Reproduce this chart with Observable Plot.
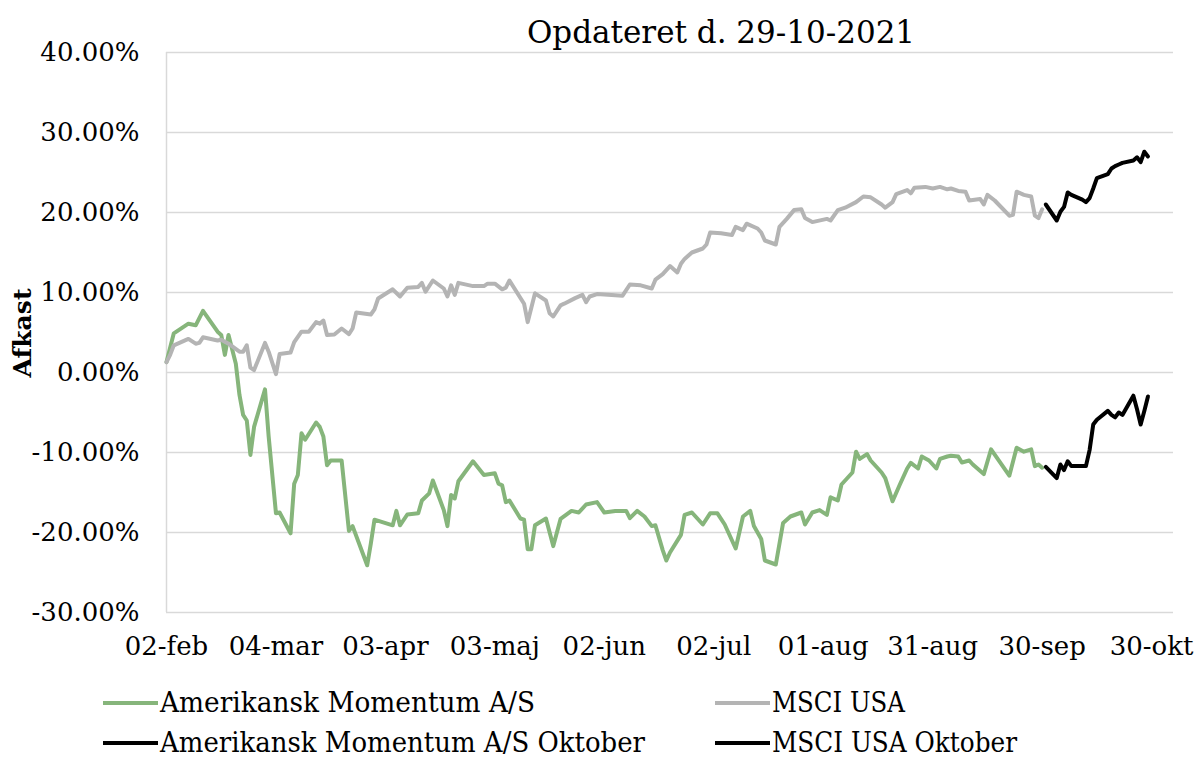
<!DOCTYPE html>
<html><head><meta charset="utf-8">
<script src="https://cdn.jsdelivr.net/npm/d3@7"></script>
<script src="https://cdn.jsdelivr.net/npm/@observablehq/plot@0.6"></script>
<style>
body{margin:0;background:#fff;}
#wrap{position:relative;width:1201px;height:760px;overflow:hidden;font-family:"DejaVu Serif",serif;color:#000;}
#title{position:absolute;top:12px;left:721px;transform:translateX(-50%);font-size:31px;line-height:40px;white-space:nowrap;}
#ytitle{position:absolute;left:22px;top:333px;transform:translate(-50%,-50%) rotate(-90deg);font-size:25px;font-weight:bold;white-space:nowrap;}
#chart svg,#legend svg{display:block;}
</style></head><body>
<div id="wrap"><div id="chart"></div><div id="legend"></div><div id="title">Opdateret d. 29-10-2021</div><div id="ytitle">Afkast</div></div>
<script>
// ---- data (afkast i %) ----
const amDatoer = ["02-02","02-04","02-08","02-10","02-12","02-16","02-17","02-18","02-19","02-21","02-22","02-23","02-24","02-25","02-26","03-01","03-02","03-04","03-05","03-08","03-09","03-10","03-11","03-12","03-15","03-16","03-17","03-18","03-19","03-22","03-24","03-25","03-29","03-30","03-31","04-05","04-06","04-07","04-09","04-12","04-13","04-15","04-16","04-19","04-20","04-21","04-22","04-23","04-27","04-30","05-03","05-04","05-05","05-06","05-07","05-10","05-11","05-12","05-13","05-14","05-17","05-19","05-21","05-24","05-26","05-28","05-31","06-02","06-05","06-08","06-09","06-11","06-13","06-15","06-16","06-18","06-19","06-20","06-23","06-24","06-26","06-29","07-01","07-03","07-05","07-06","07-08","07-10","07-12","07-13","07-15","07-16","07-19","07-21","07-23","07-26","07-27","07-29","07-31","08-02","08-03","08-05","08-06","08-09","08-10","08-11","08-13","08-14","08-17","08-18","08-20","08-22","08-24","08-25","08-27","08-28","08-30","09-01","09-02","09-04","09-05","09-07","09-08","09-10","09-11","09-14","09-16","09-21","09-23","09-25","09-27","09-28","09-29","09-30"];
const amVaerdier = [1.3,4.9,6.1,5.9,7.7,5.1,4.7,2.2,4.7,1.1,-2.8,-5.3,-6.0,-10.3,-6.8,-2.1,-8.0,-17.6,-17.5,-20.1,-13.9,-12.8,-7.6,-8.4,-6.25,-6.8,-8.0,-11.6,-11.0,-11.0,-19.8,-19.2,-24.1,-21.4,-18.4,-19.1,-17.3,-19.1,-17.75,-17.6,-16.0,-15.1,-13.5,-17.2,-19.2,-15.3,-15.75,-13.6,-11.1,-12.8,-12.6,-13.9,-14.1,-16.2,-16.0,-18.25,-18.4,-22.1,-22.1,-19.1,-18.25,-21.7,-18.3,-17.3,-17.5,-16.5,-16.2,-17.5,-17.3,-17.3,-18.2,-17.3,-18.0,-19.2,-19.1,-22.2,-23.5,-22.5,-20.3,-17.8,-17.5,-19.0,-17.6,-17.6,-19.0,-20.0,-22.0,-18.0,-17.3,-19.2,-20.8,-23.5,-24.0,-18.8,-18.0,-17.5,-19.0,-17.5,-17.2,-17.8,-15.6,-16.0,-14.0,-12.5,-9.9,-10.8,-10.2,-11.0,-12.5,-13.2,-16.1,-14.0,-12.0,-11.3,-12.0,-10.5,-11.0,-12.0,-10.8,-10.5,-10.4,-10.5,-11.25,-11.0,-11.5,-12.7,-9.6,-12.9,-9.4,-9.9,-9.6,-11.7,-11.5,-11.9];

const msciDatoer = ["02-02","02-03","02-04","02-08","02-10","02-11","02-12","02-16","02-17","02-19","02-22","02-23","02-24","02-25","02-26","03-01","03-02","03-04","03-05","03-08","03-09","03-11","03-13","03-15","03-16","03-17","03-18","03-20","03-22","03-24","03-25","03-26","03-30","03-31","04-01","04-05","04-07","04-09","04-12","04-13","04-14","04-16","04-19","04-20","04-21","04-22","04-23","04-27","04-30","05-01","05-03","05-05","05-06","05-07","05-11","05-12","05-14","05-17","05-18","05-19","05-21","05-22","05-25","05-27","05-28","05-29","05-31","06-04","06-07","06-09","06-12","06-15","06-16","06-18","06-19","06-20","06-22","06-23","06-24","06-26","06-29","06-30","07-01","07-04","07-07","07-08","07-10","07-11","07-14","07-15","07-16","07-19","07-20","07-22","07-24","07-26","07-27","07-29","08-02","08-03","08-05","08-07","08-10","08-12","08-14","08-17","08-18","08-20","08-21","08-24","08-25","08-26","08-29","08-31","09-02","09-04","09-05","09-07","09-09","09-10","09-13","09-14","09-15","09-17","09-21","09-22","09-23","09-25","09-27","09-28","09-29","09-30"];
const msciVaerdier = [1.3,2.2,3.4,4.2,3.6,3.7,4.4,4.0,4.1,3.6,2.6,2.6,3.4,0.6,0.3,3.7,2.6,-0.2,2.3,2.5,3.8,5.1,5.1,6.3,6.1,6.5,4.7,4.75,5.5,4.8,5.5,7.5,7.25,7.9,9.25,10.4,9.5,10.6,10.7,11.2,10.1,11.5,10.5,9.5,10.9,9.7,11.2,10.8,10.8,11.1,11.1,10.4,10.6,11.5,8.6,6.3,9.9,9.0,7.4,7.0,8.4,8.6,9.3,9.7,8.8,9.5,9.8,9.7,9.6,11.0,10.9,10.5,11.6,12.3,12.8,13.3,12.5,13.6,14.2,15.0,15.5,16.0,17.5,17.4,17.2,18.2,17.8,18.6,18.0,17.5,16.5,16.0,18.2,19.2,20.3,20.4,19.3,18.8,19.2,19.0,20.3,20.6,21.3,22.0,21.9,21.0,20.6,21.3,22.3,22.8,22.4,23.1,23.2,23.0,23.2,22.9,23.0,22.7,22.6,21.5,21.7,21.0,22.2,21.5,19.6,19.7,22.6,22.2,22.0,19.6,19.3,20.4];

const oktDatoer = ["10-01","10-04","10-05","10-06","10-07","10-08","10-11","10-12","10-13","10-14","10-15","10-18","10-19","10-20","10-21","10-22","10-25","10-26","10-27","10-28","10-29"];
const amOktober = [-11.8,-13.2,-11.5,-12.2,-11.1,-11.7,-11.7,-11.7,-9.7,-6.5,-5.9,-4.8,-5.3,-5.6,-5.0,-5.3,-2.9,-4.6,-6.5,-4.8,-3.0];
const msciOktober = [21.0,19.0,20.1,20.7,22.5,22.2,21.6,21.3,21.8,23.0,24.3,24.8,25.5,25.8,26.0,26.2,26.5,26.9,26.3,27.6,27.0];

const xTicks = ["02-02","03-04","04-03","05-03","06-02","07-02","08-01","08-31","09-30","10-30"];
const xTickLabels = ["02-feb","04-mar","03-apr","03-maj","02-jun","02-jul","01-aug","31-aug","30-sep","30-okt"];
const yTicks = [-30,-20,-10,0,10,20,30,40];

const serieNavne = ["Amerikansk Momentum A/S","MSCI USA","Amerikansk Momentum A/S Oktober","MSCI USA Oktober"];
const serieFarver = ["#86b57b","#b4b4b4","#000000","#000000"];

// ---- build ----
const parse = s => new Date("2021-" + s + "T00:00:00Z");
const rows = (datoer, vals) => datoer.map((d, i) => ({date: parse(d), v: vals[i]}));
const am = rows(amDatoer, amVaerdier);
const msci = rows(msciDatoer, msciVaerdier);
const amO = rows(oktDatoer, amOktober);
const msciO = rows(oktDatoer, msciOktober);
const font = '"DejaVu Serif", serif';
const fmtPct = d => d.toFixed(2) + "%";

const chart = Plot.plot({
  width: 1201, height: 680,
  marginTop: 52, marginBottom: 68, marginLeft: 166, marginRight: 28,
  style: {fontFamily: font, fontSize: "26px", color: "#000", background: "transparent", overflow: "visible"},
  x: {type: "utc", domain: [parse("02-02"), parse("11-05")], axis: null},
  y: {domain: [-30, 40], axis: null},
  marks: [
    Plot.ruleY(yTicks, {stroke: "#d9d9d9", strokeWidth: 1.5}),
    Plot.ruleX([parse("02-02")], {stroke: "#d9d9d9", strokeWidth: 1.5}),
    Plot.text(yTicks, {y: d => d, frameAnchor: "left", dx: -27, textAnchor: "end", text: fmtPct, fontSize: 26, fill: "#000"}),
    Plot.text(xTicks, {x: d => parse(d), frameAnchor: "bottom", dy: 42, text: (d, i) => xTickLabels[i], fontSize: 26, fill: "#000"}),
    Plot.line(am, {x: "date", y: "v", stroke: serieFarver[0], strokeWidth: 4, strokeLinejoin: "round"}),
    Plot.line(msci, {x: "date", y: "v", stroke: serieFarver[1], strokeWidth: 4, strokeLinejoin: "round"}),
    Plot.line(amO, {x: "date", y: "v", stroke: serieFarver[2], strokeWidth: 4, strokeLinejoin: "round"}),
    Plot.line(msciO, {x: "date", y: "v", stroke: serieFarver[3], strokeWidth: 4, strokeLinejoin: "round"})
  ]
});
document.getElementById("chart").appendChild(chart);

// ---- legend ----
const legPos = [{x: 103, y: 23, w: 375}, {x: 715, y: 23, w: 133}, {x: 103, y: 63, w: 485}, {x: 715, y: 63, w: 245}];
const leg = d3.create("svg").attr("width", 1201).attr("height", 80);
serieNavne.forEach((navn, i) => {
  const p = legPos[i];
  leg.append("line").attr("x1", p.x).attr("x2", p.x + 55).attr("y1", p.y).attr("y2", p.y)
    .attr("stroke", serieFarver[i]).attr("stroke-width", 4);
  leg.append("text").attr("x", p.x + 57).attr("y", p.y).attr("dy", "0.35em")
    .attr("font-family", font).attr("font-size", 27).attr("fill", "#000")
    .attr("textLength", p.w).attr("lengthAdjust", "spacingAndGlyphs").text(navn);
});
document.getElementById("legend").appendChild(leg.node());
</script>
</body></html>
